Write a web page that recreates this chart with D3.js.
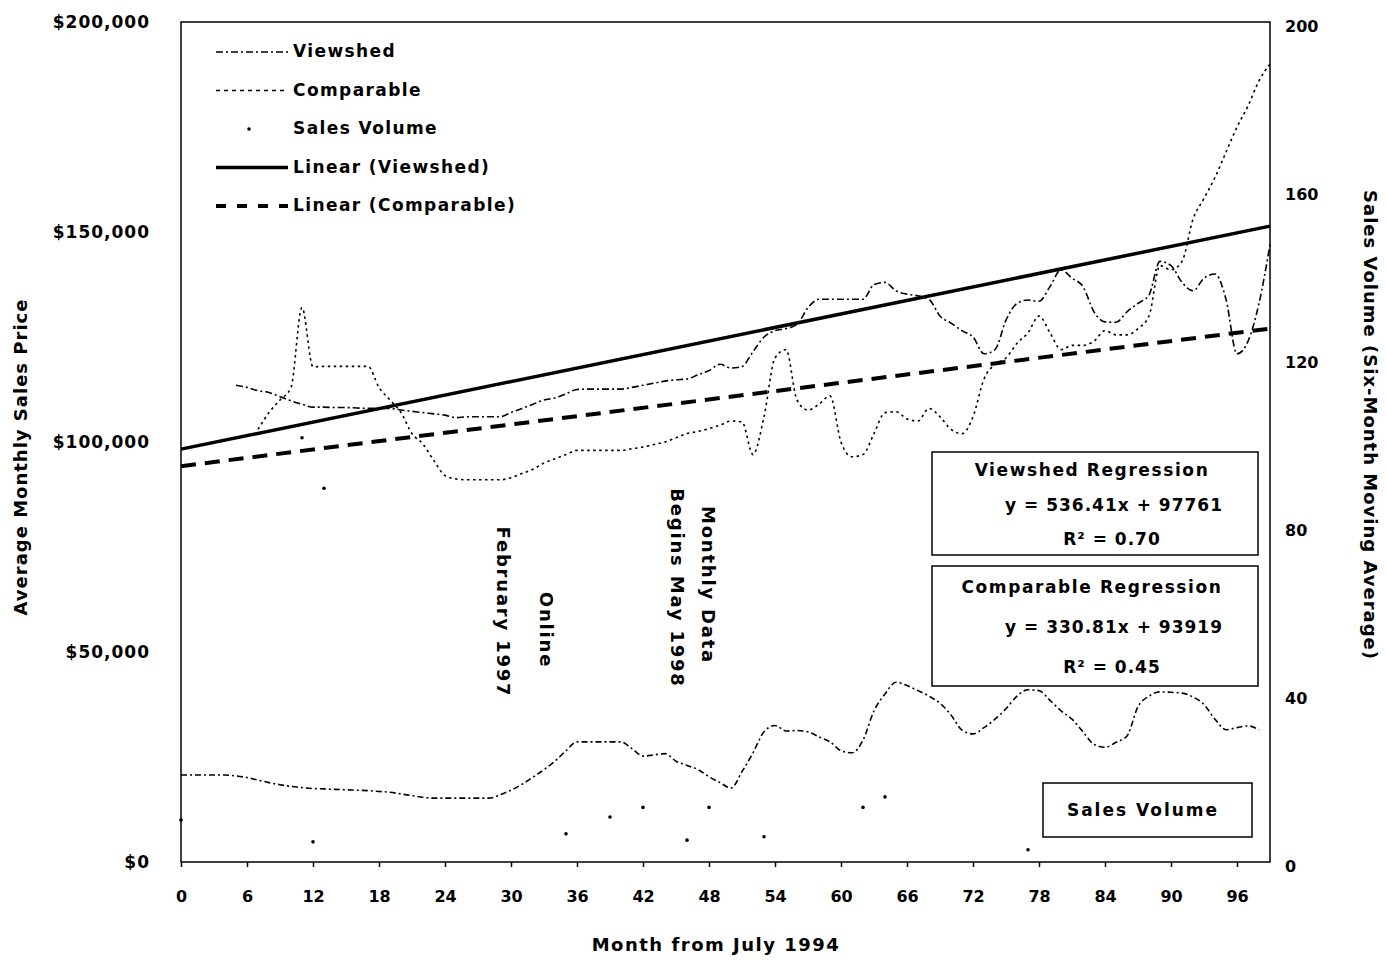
<!DOCTYPE html>
<html>
<head>
<meta charset="utf-8">
<script src="https://cdn.jsdelivr.net/npm/d3@7"></script>
<style>
  body { margin: 0; background: #fff; }
  text { font-family: "DejaVu Sans", sans-serif; font-weight: bold; fill: #000; }
</style>
</head>
<body>
<div id="chart"></div>
<script>
// monthly average sales price, viewshed homes (from month 5)
var viewshedStart = 5;
var viewshed = [113500, 113000, 112200, 111800, 110800, 109800, 109000, 108300, 108300, 108200,
  108200, 108100, 108000, 108000, 108000, 107600, 107300, 107000, 106700, 106400,
  105800, 106000, 106000, 106000, 106000, 107000, 108000, 109000, 110000, 110500,
  111500, 112500, 112600, 112600, 112600, 112600, 113000, 113500, 114000, 114500,
  114800, 115000, 116000, 117000, 118500, 117600, 118000, 121500, 125000, 126500,
  127000, 128000, 132000, 134000, 134000, 134000, 134000, 134000, 137500, 138000,
  136000, 135200, 134800, 134000, 130000, 128300, 126500, 125000, 121000, 122000,
  129000, 133000, 133800, 133500, 137000, 141000, 139000, 137000, 131000, 128600,
  128500, 131000, 133000, 135000, 143000, 142000, 138000, 136000, 139000, 140000,
  134000, 121000, 124000, 133000, 147000];

// monthly average sales price, comparable homes (from month 7)
var comparableStart = 7;
var comparable = [103000, 107000, 110000, 113000, 132000, 117900, 118000, 118000, 118000, 118000,
  118000, 113000, 110000, 107000, 102000, 99500, 95500, 92000, 91200, 91000,
  91000, 91000, 91000, 91500, 92500, 93500, 95000, 96000, 97000, 98000,
  98000, 98000, 98000, 98000, 98400, 98800, 99400, 100000, 101000, 102000,
  102500, 103200, 104000, 105000, 104800, 97000, 106000, 120000, 122000, 110000,
  107600, 109000, 111000, 100000, 96500, 97000, 102000, 107000, 107200, 105500,
  105000, 108000, 106000, 103000, 102000, 106000, 115000, 118500, 120000, 123500,
  126000, 130000, 126000, 122000, 123000, 123000, 124000, 126500, 125500, 125500,
  127000, 130000, 142000, 141000, 143000, 153000, 158000, 163000, 169000, 175000,
  180000, 186000, 190000];

// sales volume, six-month moving average (from month 0)
var volumeAvg = [20.7, 20.7, 20.7, 20.7, 20.7, 20.5, 20.1, 19.5, 18.9, 18.4,
  18, 17.7, 17.5, 17.4, 17.3, 17.2, 17.1, 17, 16.8, 16.6,
  16.2, 15.8, 15.4, 15.2, 15.2, 15.2, 15.2, 15.2, 15.2, 16,
  17.1, 18.5, 20.2, 22, 24, 26.5, 28.6, 28.6, 28.6, 28.6,
  28.6, 27, 25.2, 25.5, 25.8, 24, 23, 22, 20.3, 18.9,
  17.6, 21.5, 26, 31, 32.5, 31.2, 31.3, 31, 29.8, 28.6,
  26.5, 26, 29, 36, 40, 42.8, 42, 40.8, 39.5, 37.8,
  35, 31.4, 30.5, 32, 34, 36.5, 39.5, 41, 40.8, 38.5,
  36, 34, 31, 28, 27.3, 28.5, 30, 37, 39.5, 40.5,
  40.4, 40.2, 39.3, 37.5, 34, 31.5, 32, 32.4, 31.5];

// monthly sales volume points still visible
var volumeMonths = [0, 11, 12, 13, 35, 39, 42, 46, 48, 53, 62, 64, 75, 77];
var volumeCounts = [10, 101, 4.8, 89, 6.7, 10.7, 13, 5.2, 13, 6, 13, 15.5, 76.7, 2.9];

// regression results
var regNames = ["Viewshed Regression", "Comparable Regression"];
var regSlopes = [536.41, 330.81];
var regIntercepts = [97761, 93919];
var regR2 = ["0.70", "0.45"];

var priceTicks = [0, 50000, 100000, 150000, 200000];
var volumeTicks = [0, 40, 80, 120, 160, 200];
var monthTicks = [0, 6, 12, 18, 24, 30, 36, 42, 48, 54, 60, 66, 72, 78, 84, 90, 96];

var width = 1386, height = 960;
var svg = d3.select("#chart").append("svg")
    .attr("width", width)
    .attr("height", height);

var x = d3.scaleLinear().domain([0, 99]).range([181, 1270]);
var y = d3.scaleLinear().domain([0, 200000]).range([862, 22]);
var yR = d3.scaleLinear().domain([0, 200]).range([862, 22]);

// plot frame
svg.append("rect")
    .attr("x", x(0)).attr("y", y(200000))
    .attr("width", x(99) - x(0)).attr("height", y(0) - y(200000))
    .attr("fill", "none").attr("stroke", "#000").attr("stroke-width", 1.5);

// axes
var fmt = d3.format("$,");
svg.append("g")
    .attr("transform", "translate(" + x(0) + ",0)")
    .call(d3.axisLeft(y).tickValues(priceTicks).tickFormat(fmt).tickSize(0).tickPadding(31))
    .call(g => g.select(".domain").remove())
    .selectAll("text")
    .style("font-size", "17px").style("font-family", "DejaVu Sans").style("letter-spacing", "1px");

svg.append("g")
    .attr("transform", "translate(" + x(99) + ",4)")
    .call(d3.axisRight(yR).tickValues(volumeTicks).tickSize(0).tickPadding(15))
    .call(g => g.select(".domain").remove())
    .selectAll("text")
    .style("font-size", "16px").style("font-family", "DejaVu Sans");

svg.append("g")
    .attr("transform", "translate(0," + y(0) + ")")
    .call(d3.axisBottom(x).tickValues(monthTicks).tickSize(5).tickPadding(24))
    .call(g => g.select(".domain").remove())
    .call(g => g.selectAll("line").attr("stroke-width", 1.5))
    .selectAll("text")
    .style("font-size", "16px").style("font-family", "DejaVu Sans");

// axis titles
svg.append("text")
    .attr("transform", "translate(27,457) rotate(-90)")
    .attr("text-anchor", "middle")
    .style("font-size", "18px")
    .style("letter-spacing", "1px")
    .text("Average Monthly Sales Price");

svg.append("text")
    .attr("transform", "translate(1364,425) rotate(90)")
    .attr("text-anchor", "middle")
    .style("font-size", "18px")
    .style("letter-spacing", "1px")
    .text("Sales Volume (Six-Month Moving Average)");

svg.append("text")
    .attr("x", 716).attr("y", 951)
    .attr("text-anchor", "middle")
    .style("font-size", "18px")
    .style("letter-spacing", "1.5px")
    .text("Month from July 1994");

// regression trend lines (x in the equation counts months from 1)
var trendDash = [null, "15,9"];
regSlopes.forEach(function (s, i) {
    svg.append("line")
        .attr("x1", x(0)).attr("y1", y(regIntercepts[i] + s * 1))
        .attr("x2", x(99)).attr("y2", y(regIntercepts[i] + s * 100))
        .attr("stroke", "#000")
        .attr("stroke-width", i == 0 ? 3.5 : 4)
        .attr("stroke-dasharray", trendDash[i]);
});

// price series
function drawSeries(values, start, scale, dash, w) {
    var line = d3.line()
        .x((d, i) => x(start + i))
        .y(d => scale(d))
        .curve(d3.curveMonotoneX);
    svg.append("path")
        .datum(values)
        .attr("d", line)
        .attr("fill", "none")
        .attr("stroke", "#000")
        .attr("stroke-width", w)
        .attr("stroke-dasharray", dash);
}
drawSeries(viewshed, viewshedStart, y, "7,3,2,3", 1.6);
drawSeries(comparable, comparableStart, y, "2.5,3.5", 1.6);
drawSeries(volumeAvg, 0, yR, "6,3,2,3", 1.6);

svg.selectAll(".vol")
    .data(volumeMonths)
    .join("circle")
    .attr("class", "vol")
    .attr("cx", d => x(d))
    .attr("cy", (d, i) => yR(volumeCounts[i]))
    .attr("r", 1.8)
    .attr("fill", "#000");

// legend
var legend = [
    {name: "Viewshed", dash: "7,3,2,3", w: 1.6},
    {name: "Comparable", dash: "4,4", w: 1.6},
    {name: "Sales Volume", dot: true},
    {name: "Linear (Viewshed)", dash: null, w: 3.5},
    {name: "Linear (Comparable)", dash: "10,11", w: 4}
];
var lg = svg.append("g");
legend.forEach(function (d, i) {
    var ly = 52 + i * 38.5;
    if (d.dot) {
        lg.append("circle").attr("cx", 249).attr("cy", ly).attr("r", 1.8).attr("fill", "#000");
    } else {
        lg.append("line")
            .attr("x1", 216).attr("x2", 288).attr("y1", ly).attr("y2", ly)
            .attr("stroke", "#000").attr("stroke-width", d.w)
            .attr("stroke-dasharray", d.dash);
    }
    lg.append("text")
        .attr("x", 293).attr("y", ly)
        .attr("dominant-baseline", "middle")
        .style("font-size", "17px")
        .style("letter-spacing", "1.4px")
        .text(d.name);
});

// regression boxes
var boxTop = [452, 566], boxH = [103, 120];
regNames.forEach(function (n, i) {
    var g = svg.append("g");
    g.append("rect")
        .attr("x", 932).attr("y", boxTop[i])
        .attr("width", 326).attr("height", boxH[i])
        .attr("fill", "#fff").attr("stroke", "#000").attr("stroke-width", 1.5);
    var step = boxH[i] / 3;
    g.append("text").attr("x", 1092).attr("y", boxTop[i] + step * 0.5 + 2)
        .attr("text-anchor", "middle").attr("dominant-baseline", "middle")
        .style("font-size", "17px").style("letter-spacing", "1.6px").text(n);
    g.append("text").attr("x", 1114).attr("y", boxTop[i] + step * 1.5 + 2)
        .attr("text-anchor", "middle").attr("dominant-baseline", "middle")
        .style("font-size", "17px").style("letter-spacing", "1px")
        .text("y = " + regSlopes[i].toFixed(2) + "x + " + regIntercepts[i]);
    g.append("text").attr("x", 1112).attr("y", boxTop[i] + step * 2.5 + 2)
        .attr("text-anchor", "middle").attr("dominant-baseline", "middle")
        .style("font-size", "17px").style("letter-spacing", "1px")
        .text("R\u00b2 = " + regR2[i]);
});

// sales volume label box
svg.append("rect")
    .attr("x", 1043).attr("y", 783).attr("width", 209).attr("height", 54)
    .attr("fill", "#fff").attr("stroke", "#000").attr("stroke-width", 1.5);
svg.append("text")
    .attr("x", 1143).attr("y", 811)
    .attr("text-anchor", "middle").attr("dominant-baseline", "middle")
    .style("font-size", "17px")
    .style("letter-spacing", "2px")
    .text("Sales Volume");

// vertical annotations
function vnote(lines, xs, ys) {
    lines.forEach(function (t, i) {
        svg.append("text")
            .attr("transform", "translate(" + xs[i] + "," + ys[i] + ") rotate(90)")
            .attr("text-anchor", "middle")
            .attr("dominant-baseline", "middle")
            .style("font-size", "18px")
            .style("letter-spacing", "1.8px")
            .text(t);
    });
}
vnote(["Online", "February 1997"], [545, 502], [630, 612]);
vnote(["Monthly Data", "Begins May 1998"], [707, 676], [585, 588]);
</script>
</body>
</html>
